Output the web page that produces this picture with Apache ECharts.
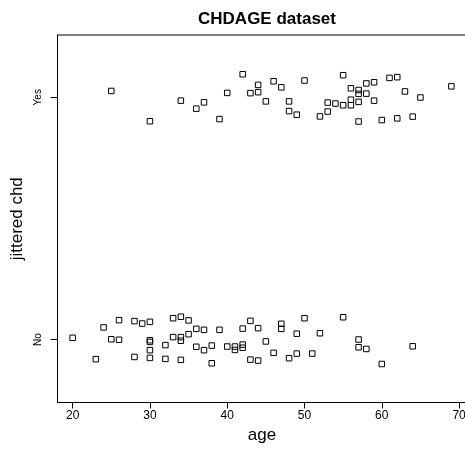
<!DOCTYPE html>
<html>
<head>
<meta charset="utf-8">
<script src="https://cdn.jsdelivr.net/npm/echarts@6/dist/echarts.min.js"></script>
<style>html,body{margin:0;padding:0;background:#fff}#c{width:465px;height:455px}</style>
</head>
<body>
<div id="c"></div>
<script>
// CHD = 1 (Yes): ages and jittered y values
var yesAge = [25,30,34,36,37,39,40,42,43,44,44,45,46,47,48,48,49,50,52,53,53,54,55,55,56,56,56,57,57,57,57,58,58,59,59,60,61,62,62,63,64,65,69];
var yesJit = [1.026,0.901,0.986,0.953,0.979,0.910,1.018,1.095,1.017,1.051,1.021,0.983,1.066,1.041,0.983,0.943,0.928,1.069,0.921,0.978,0.941,0.974,1.091,0.967,1.037,0.990,0.967,1.030,1.014,0.981,0.900,1.057,1.015,1.062,0.986,0.906,1.080,1.083,0.913,1.024,0.920,0.999,1.045];
// CHD = 0 (No)
var noAge = [20,23,24,25,26,26,28,28,29,30,30,30,30,30,32,32,33,33,34,34,34,34,35,35,36,36,37,37,38,38,39,40,41,41,42,42,42,43,43,44,44,45,46,47,47,48,49,49,50,51,52,55,57,57,58,60,64];
var noJit = [0.007,-0.081,0.050,0.001,0.080,-0.001,0.076,-0.072,0.066,0.073,-0.003,-0.010,-0.044,-0.076,-0.023,-0.080,0.088,0.010,0.094,0.010,-0.005,-0.084,0.079,0.022,0.044,-0.030,0.040,-0.044,-0.025,-0.098,0.040,-0.029,-0.029,-0.043,0.045,-0.021,-0.034,0.077,-0.083,0.047,-0.087,-0.008,-0.055,0.065,0.044,-0.077,0.024,-0.058,0.088,-0.058,0.026,0.092,0.000,-0.032,-0.039,-0.101,-0.028];
var xTicks = [20,30,40,50,60,70];
var yTicks = [0,1];
var yLabels = ['No','Yes'];

var pts = [];
yesAge.forEach(function(a,i){pts.push([a, yesJit[i]]);});
noAge.forEach(function(a,i){pts.push([a, noJit[i]]);});

var font = 'Liberation Sans, Arial, Helvetica, sans-serif';
var chart = echarts.init(document.getElementById('c'), null, {renderer:'canvas'});
chart.setOption({
  animation:false,
  backgroundColor:'#fff',
  title:{text:'CHDAGE dataset', left:262, top:6, textAlign:'center',
    textStyle:{fontFamily:font, fontSize:17, fontWeight:'bold', color:'#000'}},
  grid:{left:57.5, top:35, width:409, height:367.5, show:true, borderColor:'#000', borderWidth:1,
    backgroundColor:'transparent', containLabel:false, outerBoundsMode:'none'},
  xAxis:{type:'value', min:18.04, max:70.96,
    name:'age', nameLocation:'middle', nameGap:19,
    nameTextStyle:{fontFamily:font, fontSize:17, color:'#000'},
    axisLine:{show:true, onZero:false, lineStyle:{color:'#000', width:1}},
    axisTick:{show:true, length:6, customValues:xTicks, lineStyle:{color:'#000'}},
    axisLabel:{customValues:xTicks, margin:7, fontFamily:font, fontSize:12, color:'#000'},
    splitLine:{show:false}},
  yAxis:{type:'value', min:-0.26, max:1.257,
    name:'jittered chd', nameLocation:'middle', nameGap:30,
    nameTextStyle:{fontFamily:font, fontSize:17, color:'#000'},
    axisLine:{show:true, onZero:false, lineStyle:{color:'#000', width:1}},
    axisTick:{show:true, length:7, customValues:yTicks, lineStyle:{color:'#000'}},
    axisLabel:{customValues:yTicks, rotate:90, margin:14, fontFamily:font, fontSize:10, color:'#000',
      formatter:function(v){var i=yTicks.indexOf(v);return i>=0?yLabels[i]:'';}},
    splitLine:{show:false}},
  series:[{type:'scatter', data:pts, symbol:'rect', symbolSize:5.5,
    itemStyle:{color:'rgba(0,0,0,0)', borderColor:'#000', borderWidth:1, opacity:1}}]
});
</script>
</body>
</html>
